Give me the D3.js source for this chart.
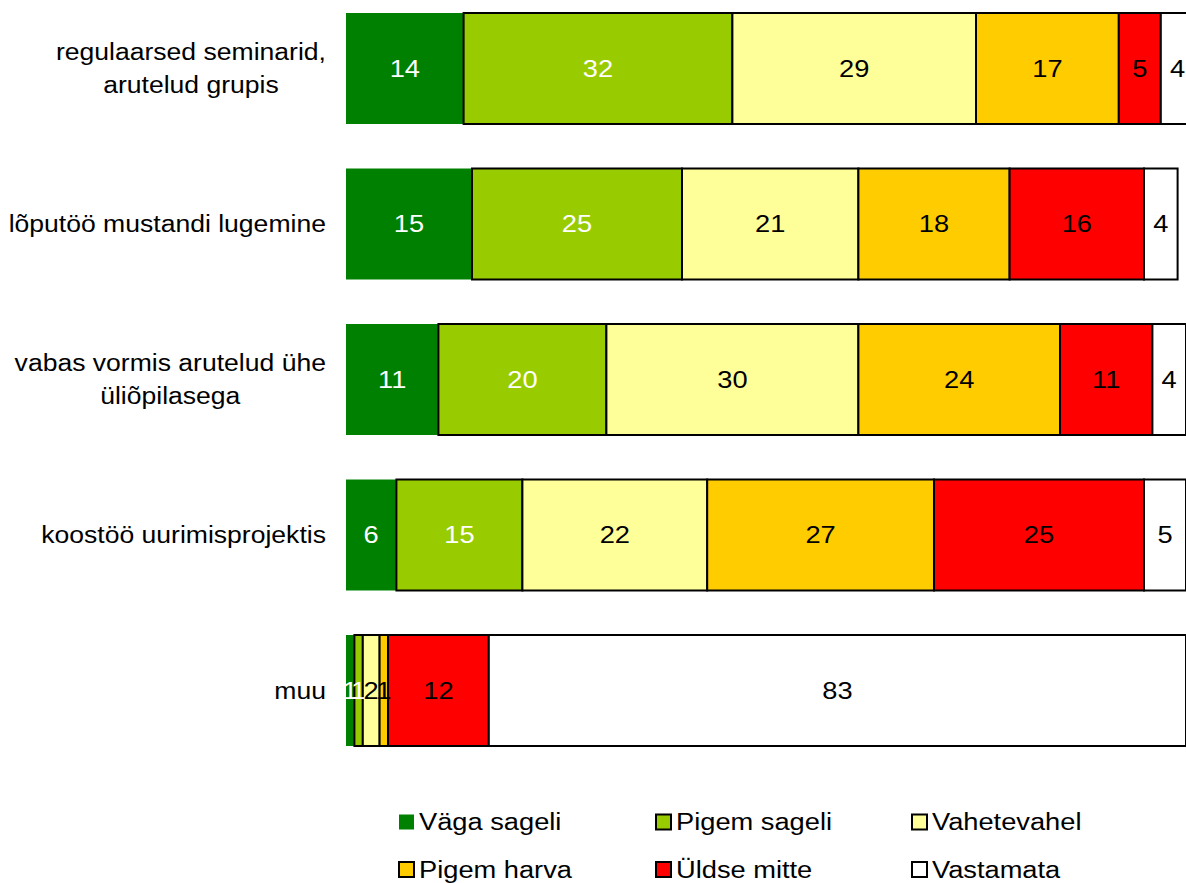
<!DOCTYPE html>
<html>
<head>
<meta charset="utf-8">
<script src="https://cdn.jsdelivr.net/npm/d3@7"></script>
<style>
html,body{margin:0;padding:0;background:#fff;}
svg{display:block;font-family:"Liberation Sans",Arial,sans-serif;}
</style>
</head>
<body>
<svg id="chart" width="1186" height="883"></svg>
<script>
const categories = [
  ["regulaarsed seminarid,", "arutelud grupis"],
  ["lõputöö mustandi lugemine"],
  ["vabas vormis arutelud ühe", "üliõpilasega"],
  ["koostöö uurimisprojektis"],
  ["muu"]
];
const seriesNames = ["Väga sageli", "Pigem sageli", "Vahetevahel", "Pigem harva", "Üldse mitte", "Vastamata"];
const vagaSageli   = [14, 15, 11, 6, 1];
const pigemSageli  = [32, 25, 20, 15, 1];
const vahetevahel  = [29, 21, 30, 22, 2];
const pigemHarva   = [17, 18, 24, 27, 1];
const uldseMitte   = [5, 16, 11, 25, 12];
const vastamata    = [4, 4, 4, 5, 83];
const seriesColors = ["#008000", "#99CC00", "#FFFF99", "#FFCC00", "#FF0000", "#FFFFFF"];
const labelColors  = ["#fff", "#fff", "#000", "#000", "#000", "#000"];
const xDomain = [0, 100];

const FS = 23.5, SX = 1.16, SX_CAT = 1.13;

const allSeries = [vagaSageli, pigemSageli, vahetevahel, pigemHarva, uldseMitte, vastamata];
const keys = categories.map(c => c.join(" "));
const rows = keys.map((k, i) => {
  const o = {cat: k};
  seriesNames.forEach((s, j) => o[s] = allSeries[j][i]);
  return o;
});

const svg = d3.select("#chart");
const x = d3.scaleLinear().domain(xDomain).range([346, 1186]);
const y = d3.scaleBand().domain(keys).range([13, 746]).paddingInner(0.2862).paddingOuter(0);

const stacked = d3.stack().keys(seriesNames)(rows);

function stretchedText(parent, px, py) {
  return parent.append("g")
    .attr("transform", `translate(${px},${py}) scale(${SX},1)`)
    .append("text")
    .attr("font-size", FS);
}

const g = svg.append("g");
stacked.forEach((layer, si) => {
  g.append("g").selectAll("rect").data(layer).join("rect")
    .attr("x", d => x(d[0]))
    .attr("y", d => y(d.data.cat))
    .attr("width", d => x(d[1]) - x(d[0]))
    .attr("height", y.bandwidth())
    .attr("fill", seriesColors[si])
    .attr("stroke", si === 0 ? "none" : "#000")
    .attr("stroke-width", 2);
});
stacked.forEach((layer, si) => {
  const lg = g.append("g");
  layer.forEach(d => {
    stretchedText(lg, (x(d[0]) + x(d[1])) / 2, y(d.data.cat) + y.bandwidth() / 2)
      .attr("dy", "0.35em")
      .attr("text-anchor", "middle")
      .attr("fill", labelColors[si])
      .text(d[1] - d[0]);
  });
});

// category labels
const catG = svg.append("g");
categories.forEach((lines, i) => {
  const cy = y(keys[i]) + y.bandwidth() / 2;
  const holder = catG.append("g");
  const t = holder.append("text")
    .attr("font-size", FS)
    .attr("fill", "#000")
    .attr("text-anchor", "middle");
  const lh = 33;
  lines.forEach((ln, li) => {
    t.append("tspan").attr("x", 0).attr("y", (li - (lines.length - 1) / 2) * lh).attr("dy", "0.35em").text(ln);
  });
  const w = d3.max(t.selectAll("tspan").nodes(), n => n.getComputedTextLength()) * SX_CAT;
  holder.attr("transform", `translate(${326 - w / 2},${cy}) scale(${SX_CAT},1)`);
});

// legend
const legendX = [399, 656, 912];
const legendY = [822, 869.5];
const leg = svg.append("g");
seriesNames.forEach((s, i) => {
  const col = i % 3, row = Math.floor(i / 3);
  const gx = legendX[col], gy = legendY[row];
  leg.append("rect")
    .attr("x", gx).attr("y", gy - 7.5)
    .attr("width", 15).attr("height", 15)
    .attr("fill", seriesColors[i])
    .attr("stroke", i === 0 ? "none" : "#000")
    .attr("stroke-width", 2);
  stretchedText(leg, gx + 20, gy)
    .attr("dy", "0.35em")
    .attr("fill", "#000")
    .text(s);
});
</script>
</body>
</html>
